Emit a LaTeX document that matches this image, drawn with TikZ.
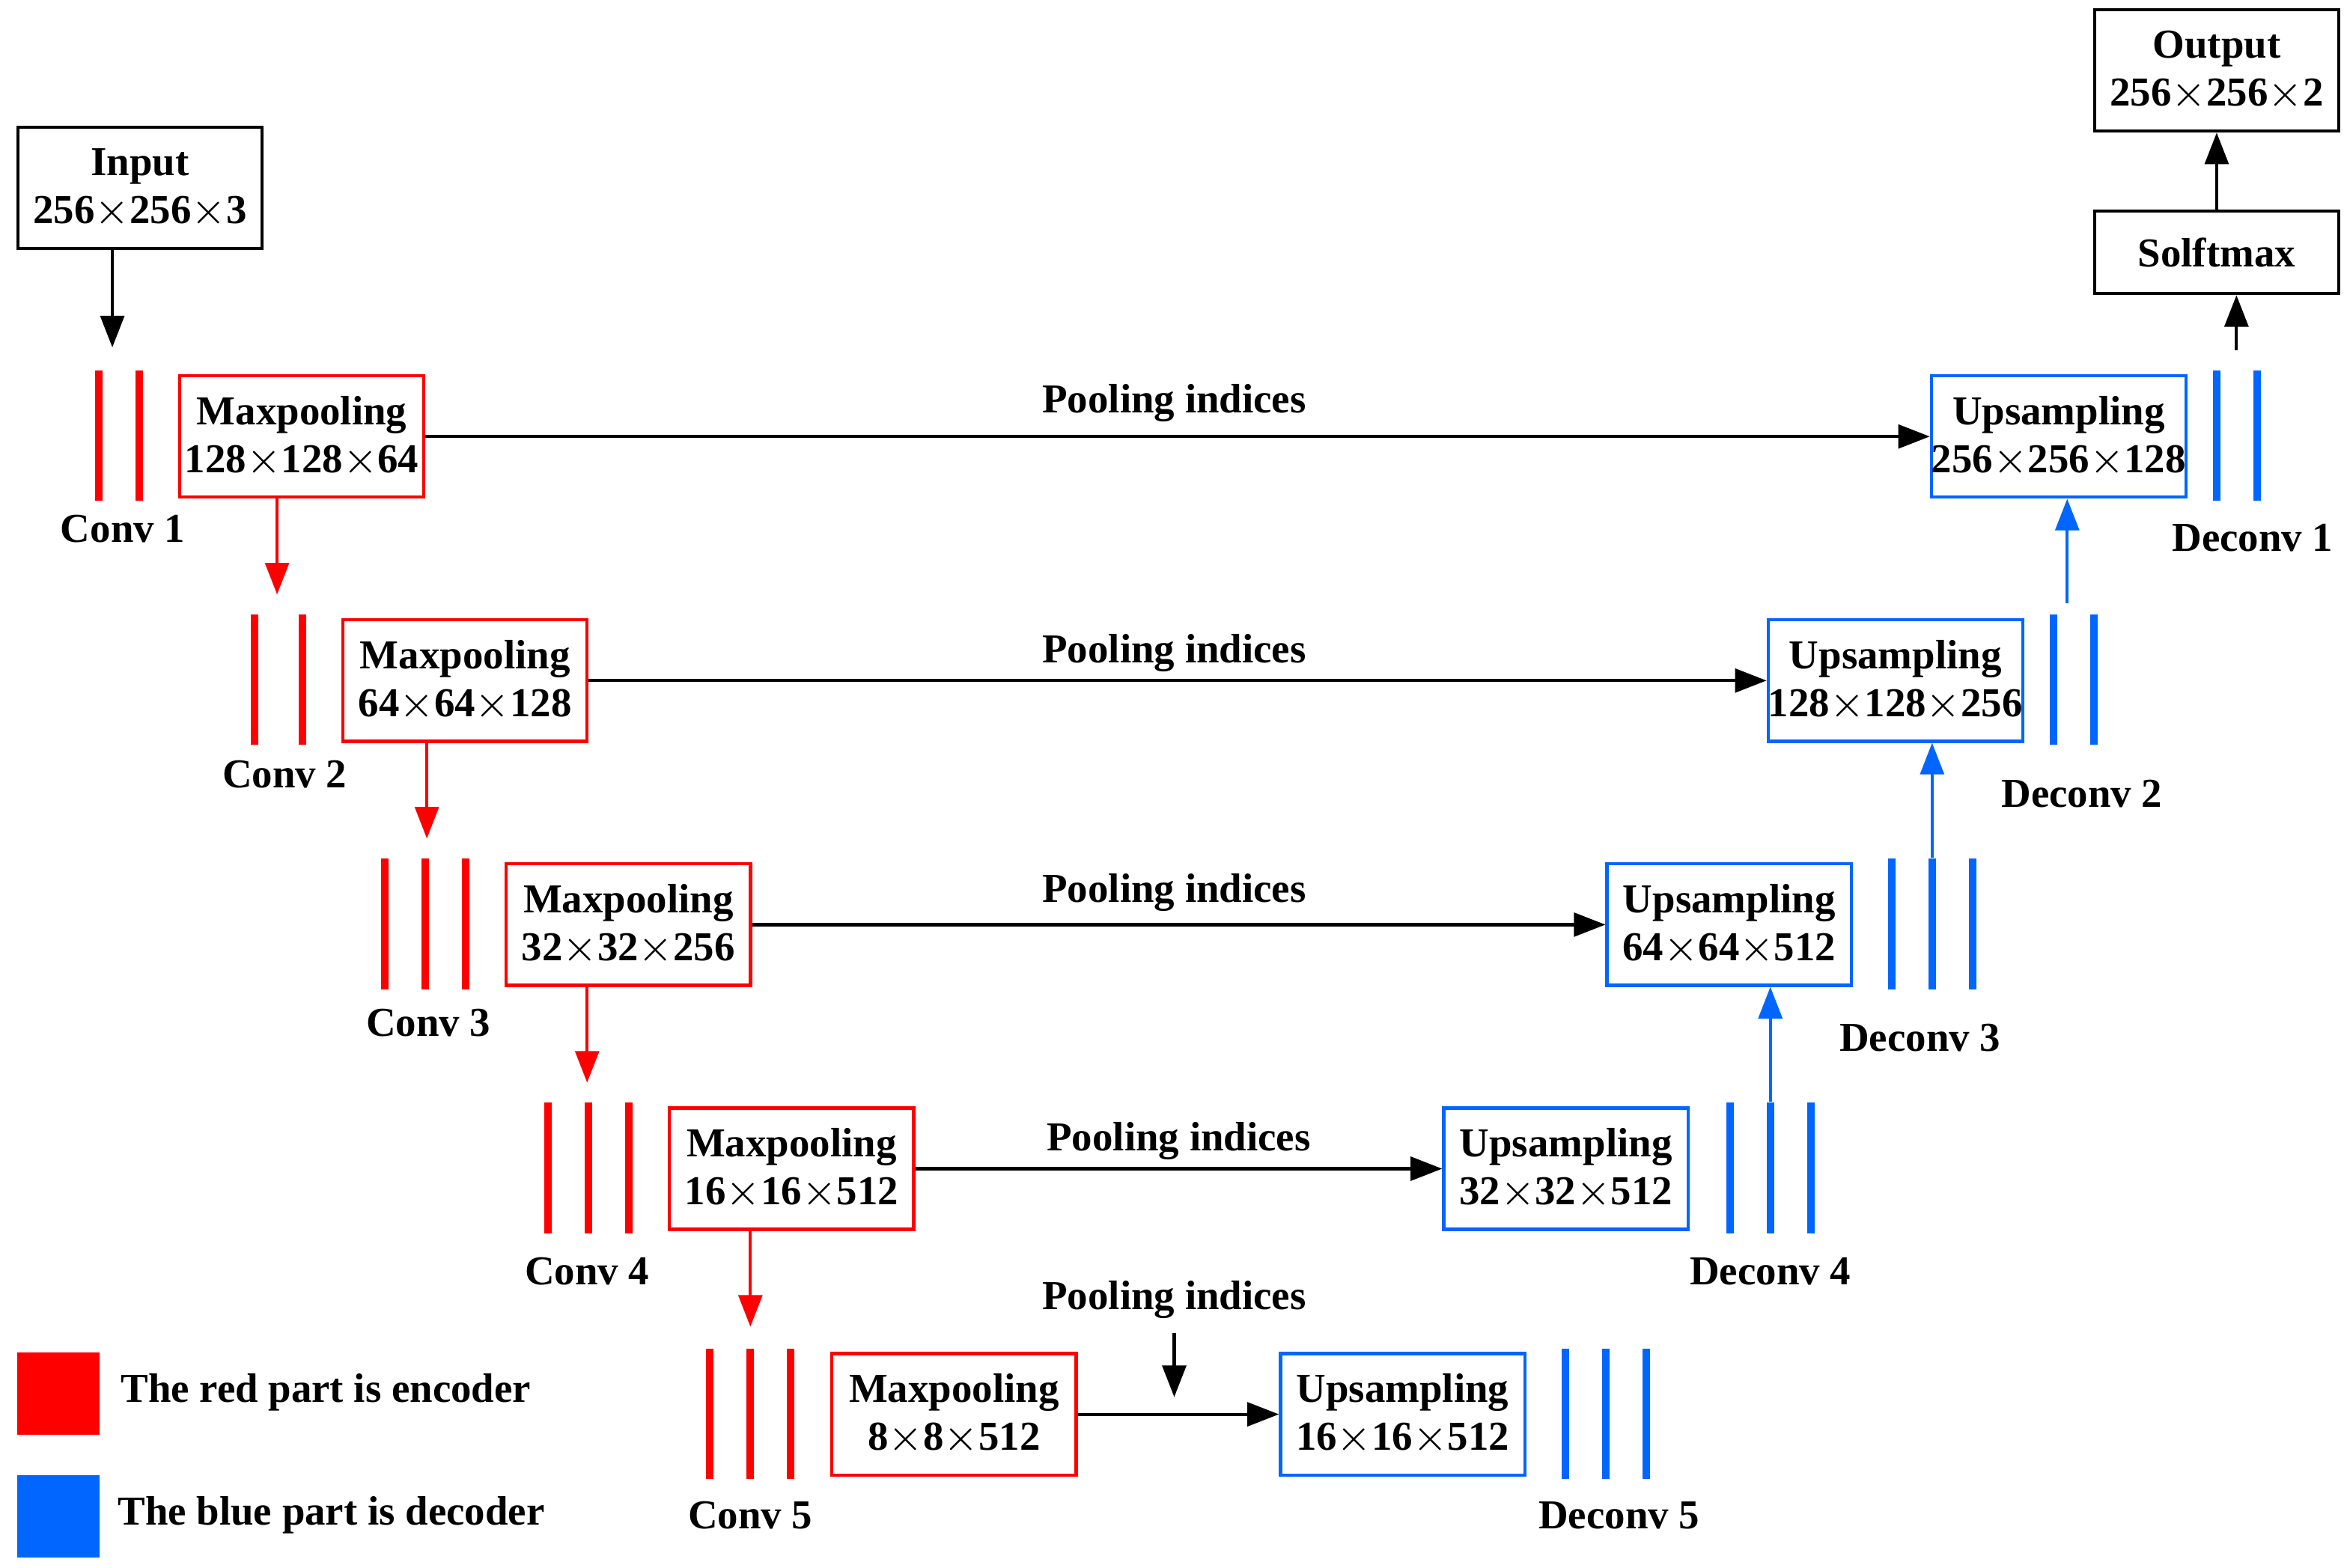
\documentclass[tikz,border=0pt]{standalone}
\usepackage{fontspec}
\setmainfont{Liberation Serif}
\usetikzlibrary{arrows.meta,positioning}
\definecolor{encred}{RGB}{255,0,0}
\definecolor{decblue}{RGB}{0,102,255}
\begin{document}
\begin{tikzpicture}[x=0.01cm,y=-0.01cm,>={Triangle[length=6pt,width=4.5pt]},
  box/.style={draw,line width=0.6pt,minimum width=1.63cm,minimum height=0.81cm,align=center,inner sep=0pt,
    font=\fontsize{7.8}{9.1}\selectfont\bfseries},
  rbox/.style={box,draw=encred},
  bbox/.style={box,draw=decblue},
  rbar/.style={fill=encred,minimum width=0.05cm,minimum height=0.87cm,inner sep=0pt},
  bbar/.style={rbar,fill=decblue},
  lab/.style={font=\fontsize{7.8}{9.1}\selectfont\bfseries,inner sep=0pt},
  rarr/.style={->,encred,line width=0.6pt},
  barr/.style={->,decblue,line width=0.6pt},
  karr/.style={->,line width=0.6pt}]
\useasboundingbox (0,0) rectangle (1565,1047);
% encoder
\node[box]  (in)  at (93.5,125.5) {Input\\256$\times$256$\times$3};
\coordinate (in0) at (75,232);
\node[rbar] (c1a) at (66,291) {};  \node[rbar] (c1b) at (93,291) {};
\node[lab]  (c1)  at (82,353) {Conv 1};
\node[rbox] (m1)  at (201.5,291.5) {Maxpooling\\128$\times$128$\times$64};
\coordinate (m1d) at (185,397);
\node[rbar] (c2a) at (170,454) {}; \node[rbar] (c2b) at (202,454) {};
\node[lab]  (c2)  at (190,517) {Conv 2};
\node[rbox] (m2)  at (310.5,454.5) {Maxpooling\\64$\times$64$\times$128};
\coordinate (m2d) at (285,560);
\foreach \i/\x in {a/257,b/284,c/311} \node[rbar] (c3\i) at (\x,617) {};
\node[lab]  (c3)  at (286,683) {Conv 3};
\node[rbox] (m3)  at (419.5,617.5) {Maxpooling\\32$\times$32$\times$256};
\coordinate (m3d) at (392,723);
\foreach \i/\x in {a/366,b/393,c/420} \node[rbar] (c4\i) at (\x,780) {};
\node[lab]  (c4)  at (392,849) {Conv 4};
\node[rbox] (m4)  at (528.5,780.5) {Maxpooling\\16$\times$16$\times$512};
\coordinate (m4d) at (501,886);
\foreach \i/\x in {a/474,b/501,c/528} \node[rbar] (c5\i) at (\x,944) {};
\node[lab]  (c5)  at (501,1012) {Conv 5};
\node[rbox] (m5)  at (637,944.5) {Maxpooling\\8$\times$8$\times$512};
% decoder
\node[bbox] (u5)  at (936.5,944.5) {Upsampling\\16$\times$16$\times$512};
\foreach \i/\x in {a/1045,b/1072,c/1099} \node[bbar] (d5\i) at (\x,944) {};
\node[lab]  (d5)  at (1081,1012) {Deconv 5};
\node[bbox] (u4)  at (1045.5,780.5) {Upsampling\\32$\times$32$\times$512};
\foreach \i/\x in {a/1155,b/1182,c/1209} \node[bbar] (d4\i) at (\x,780) {};
\node[lab]  (d4)  at (1182,849) {Deconv 4};
\node[bbox] (u3)  at (1154.5,617.5) {Upsampling\\64$\times$64$\times$512};
\foreach \i/\x in {a/1263,b/1290,c/1317} \node[bbar] (d3\i) at (\x,617) {};
\node[lab]  (d3)  at (1282,693) {Deconv 3};
\node[bbox,minimum width=1.69cm] (u2) at (1265.5,454.5) {Upsampling\\128$\times$128$\times$256};
\node[bbar] (d2a) at (1371,454) {}; \node[bbar] (d2b) at (1398,454) {};
\node[lab]  (d2)  at (1390,530) {Deconv 2};
\node[bbox,minimum width=1.67cm] (u1) at (1374.5,291.5) {Upsampling\\256$\times$256$\times$128};
\node[bbar] (d1a) at (1480,291) {}; \node[bbar] (d1b) at (1507,291) {};
\node[lab]  (d1)  at (1504,359) {Deconv 1};
\node[box,minimum height=0.55cm] (sm)  at (1480,168.5) {Solftmax};
\node[box]  (out) at (1480,47) {Output\\256$\times$256$\times$2};
% pooling indices
\node[lab] (p1) at (784,269) {Pooling indices};
\node[lab] (p2) at (784,436) {Pooling indices};
\node[lab] (p3) at (784,596) {Pooling indices};
\node[lab] (p4) at (787,762) {Pooling indices};
\node[lab] (p5) at (784,868) {Pooling indices};
\coordinate (p5t) at (784,890);
\coordinate (p5b) at (784,933);
% arrows
\draw[karr] (in.south -| in0) -- (in0);
\draw[rarr] (m1.south -| m1d) -- (m1d);
\draw[rarr] (m2.south -| m2d) -- (m2d);
\draw[rarr] (m3.south -| m3d) -- (m3d);
\draw[rarr] (m4.south -| m4d) -- (m4d);
\draw[karr] (m1) -- (u1);
\draw[karr] (m2) -- (u2);
\draw[karr] (m3) -- (u3);
\draw[karr] (m4) -- (u4);
\draw[karr] (m5) -- (u5);
\draw[karr] (p5t) -- (p5b);
\draw[barr] (d4b.north) -- (d4b |- u3.south);
\draw[barr] (d3b.north) -- (d3b |- u2.south);
\draw[barr] ([yshift=0.07cm]d2a.north east) ++(6,0) coordinate (d2t) -- (d2t |- u1.south);
\draw[karr] ([yshift=0.13cm]d1a.north east) ++(10,0) coordinate (d1t) -- (d1t |- sm.south);
\draw[karr] (sm) -- (out);
% legend
\node[fill=encred,minimum size=0.55cm,inner sep=0pt] (lr) at (39,930.5) {};
\node[lab,anchor=west] (lrt) at (80,930) {The red part is encoder};
\node[fill=decblue,minimum size=0.55cm,inner sep=0pt] (lb) at (39,1012.5) {};
\node[lab,anchor=west] (lbt) at (78,1012) {The blue part is decoder};
\end{tikzpicture}
\end{document}
